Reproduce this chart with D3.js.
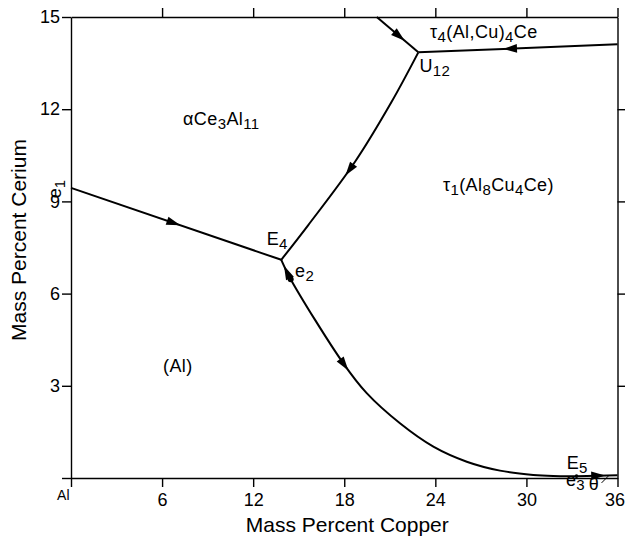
<!DOCTYPE html>
<html>
<head>
<meta charset="utf-8">
<script src="https://cdn.jsdelivr.net/npm/d3@7"></script>
<style>
body { margin: 0; background: #fff; }
svg { font-family: "Liberation Sans", Arial, sans-serif; }
</style>
</head>
<body>
<svg></svg>
<script>
var width = 625, height = 538;
var margin = {top: 17, right: 7.5, bottom: 60, left: 71};

//axis ticks
var xTicks = [0, 6, 12, 18, 24, 30, 36];
var xTickLabels = ["Al", "6", "12", "18", "24", "30", "36"];
var yTicks = [0, 3, 6, 9, 12, 15];
var yTickLabels = ["", "3", "6", "9", "12", "15"];

//liquidus valleys, [mass % Cu, mass % Ce]
var e1E4 = [[0, 9.44], [13.85, 7.1]];
var E4U12 = [[13.85, 7.1], [15.63, 8.23], [18.71, 10.29], [21.13, 12.25], [22.88, 13.85]];
var topU12 = [[20.14, 15], [22.88, 13.85]];
var rightU12 = [[36, 14.11], [22.88, 13.85]];
var E4E5 = [[13.85, 7.1], [14.47, 6.47], [17.94, 3.73], [19.48, 2.76], [21.67, 1.78], [23.87, 1.02],
	[26.07, 0.53], [28.26, 0.24], [30.45, 0.10], [31.77, 0.065], [33.3, 0.06]];
var E5right = [[33.3, 0.06], [36, 0.09]];

//invariant points marked with a dot (e2, E5)
var dots = [[14.47, 6.47], [33.3, 0.06]];

//arrows: which valley, fraction along it, direction of travel
var arrows = [
	{curve: e1E4, at: 0.52, dir: 1},
	{curve: E4U12, at: 0.425, dir: -1},
	{curve: topU12, at: 0.67, dir: 1},
	{curve: rightU12, at: 0.575, dir: 1},
	{curve: E4E5, at: 0.017, dir: -1},
	{curve: E4E5, at: 0.33, dir: 1},
	{curve: E5right, at: 0.7, dir: 1}
];

//phase field and point labels: pieces of [text, subscript?]
var labels = [
	{x: 7.38, y: 11.49, parts: [["\u03B1Ce", 0], ["3", 1], ["Al", 0], ["11", 1]]},
	{x: 23.65, y: 14.33, parts: [["\u03C4", 0], ["4", 1], ["(Al,Cu)", 0], ["4", 1], ["Ce", 0]]},
	{x: 22.95, y: 13.2, parts: [["U", 0], ["12", 1]]},
	{x: 24.5, y: 9.35, parts: [["\u03C4", 0], ["1", 1], ["(Al", 0], ["8", 1], ["Cu", 0], ["4", 1], ["Ce)", 0]]},
	{x: 6.06, y: 3.45, parts: [["(Al)", 0]]},
	{x: 12.89, y: 7.58, parts: [["E", 0], ["4", 1]]},
	{x: 14.76, y: 6.55, parts: [["e", 0], ["2", 1]]},
	{x: 32.65, y: 0.3, parts: [["E", 0], ["5", 1]]},
	{x: 32.6, y: -0.27, parts: [["e", 0], ["3", 1]]},
	{x: 34.1, y: -0.4, parts: [["\u03B8", 0]]}
];

var svg = d3.select("svg")
	.attr("width", width)
	.attr("height", height);

var iw = width - margin.left - margin.right;
var ih = height - margin.top - margin.bottom;

var x = d3.scaleLinear().domain([0, 36]).range([0, iw]);
var y = d3.scaleLinear().domain([0, 15]).range([ih, 0]);

var g = svg.append("g")
	.attr("transform", "translate(" + margin.left + "," + margin.top + ")");

//draw axis
var xAxis = g.append("g")
	.attr("transform", "translate(0," + ih + ")")
	.call(d3.axisBottom(x).tickValues(xTicks).tickSize(9).tickSizeOuter(0).tickPadding(6)
		.tickFormat(function(d, i) { return xTickLabels[i]; }));

g.append("g")
	.call(d3.axisLeft(y).tickValues(yTicks).tickSize(9).tickSizeOuter(0).tickPadding(2)
		.tickFormat(function(d, i) { return yTickLabels[i]; }));

g.append("g")
	.call(d3.axisTop(x).tickValues(xTicks.slice(1)).tickSize(9).tickSizeOuter(0).tickFormat(""));

g.append("g")
	.attr("transform", "translate(" + iw + ",0)")
	.call(d3.axisRight(y).tickValues(yTicks.slice(1, 5)).tickSize(8).tickSizeOuter(0).tickFormat(""));

g.selectAll(".tick text")
	.style("font-size", "18px")
	.style("font-family", "'Liberation Sans', Arial, sans-serif")
	.attr("fill", "#000");
g.selectAll(".domain, .tick line")
	.attr("stroke", "#000")
	.attr("stroke-width", 1.4);

//"Al" sits left of its tick, "36" is flush with the right edge
xAxis.selectAll("text").filter(function(d) { return d === 0; })
	.attr("text-anchor", "end")
	.attr("dx", -2)
	.attr("dy", "0.5em")
	.style("font-size", "14px");
xAxis.selectAll("text").filter(function(d) { return d === 36; })
	.attr("text-anchor", "end")
	.attr("dx", 7);

//draw valleys
var line = d3.line()
	.x(function(d) { return x(d[0]); })
	.y(function(d) { return y(d[1]); });
var smooth = d3.line()
	.x(function(d) { return x(d[0]); })
	.y(function(d) { return y(d[1]); })
	.curve(d3.curveCatmullRom);

var curves = [e1E4, E4U12, topU12, rightU12, E4E5, E5right];
var paths = g.selectAll(".valley")
	.data(curves)
	.enter().append("path")
	.attr("class", "valley")
	.attr("fill", "none")
	.attr("stroke", "#000")
	.attr("stroke-width", 2)
	.attr("stroke-linejoin", "round")
	.attr("d", function(d) { return d.length > 2 ? smooth(d) : line(d); });

//draw arrows along valleys
arrows.forEach(function(a) {
	var node = paths.filter(function(d) { return d === a.curve; }).node();
	var L = node.getTotalLength();
	var p = node.getPointAtLength(L * a.at);
	var q = node.getPointAtLength(Math.max(0, Math.min(L, L * a.at - a.dir * 2)));
	var ang = Math.atan2(p.y - q.y, p.x - q.x);
	var len = 14, hw = 4.3;
	var bx = p.x - len * Math.cos(ang), by = p.y - len * Math.sin(ang);
	var px = -Math.sin(ang) * hw, py = Math.cos(ang) * hw;
	g.append("path")
		.attr("fill", "#000")
		.attr("d", "M" + p.x + "," + p.y + "L" + (bx + px) + "," + (by + py) + "L" + (bx - px) + "," + (by - py) + "Z");
});

//draw dots
g.selectAll(".dot")
	.data(dots)
	.enter().append("circle")
	.attr("class", "dot")
	.attr("cx", function(d) { return x(d[0]); })
	.attr("cy", function(d) { return y(d[1]); })
	.attr("r", function(d, i) { return i === 0 ? 3 : 1.8; })
	.attr("fill", "#000");

//theta leader line
g.append("line")
	.attr("x1", x(34.95)).attr("y1", y(-0.16))
	.attr("x2", x(35.45)).attr("y2", y(0.09))
	.attr("stroke", "#000")
	.attr("stroke-width", 1);

//draw labels
labels.forEach(function(l) {
	var t = g.append("text")
		.attr("x", x(l.x))
		.attr("y", y(l.y))
		.style("font-size", "18px")
		.style("letter-spacing", "0.4px");
	var prev = 0;
	l.parts.forEach(function(p) {
		var shift = p[1] ? 4 : 0;
		t.append("tspan")
			.attr("dy", shift - prev)
			.style("font-size", p[1] ? "15px" : "18px")
			.text(p[0]);
		prev = shift;
	});
});

//e1 label, rotated next to the y axis
var e1 = svg.append("text")
	.attr("transform", "translate(" + (margin.left - 10) + "," + (margin.top + y(9.1)) + ") rotate(-90)")
	.style("font-size", "18px");
e1.append("tspan").text("e");
e1.append("tspan").attr("dy", 4).style("font-size", "15px").text("1");

//axis titles
svg.append("text")
	.attr("text-anchor", "middle")
	.attr("x", margin.left + iw / 2 + 3)
	.attr("y", 532)
	.style("font-size", "21px")
	.text("Mass Percent Copper");

svg.append("text")
	.attr("text-anchor", "middle")
	.attr("transform", "rotate(-90)")
	.attr("x", -240)
	.attr("y", 26)
	.style("font-size", "21px")
	.text("Mass Percent Cerium");
</script>
</body>
</html>
